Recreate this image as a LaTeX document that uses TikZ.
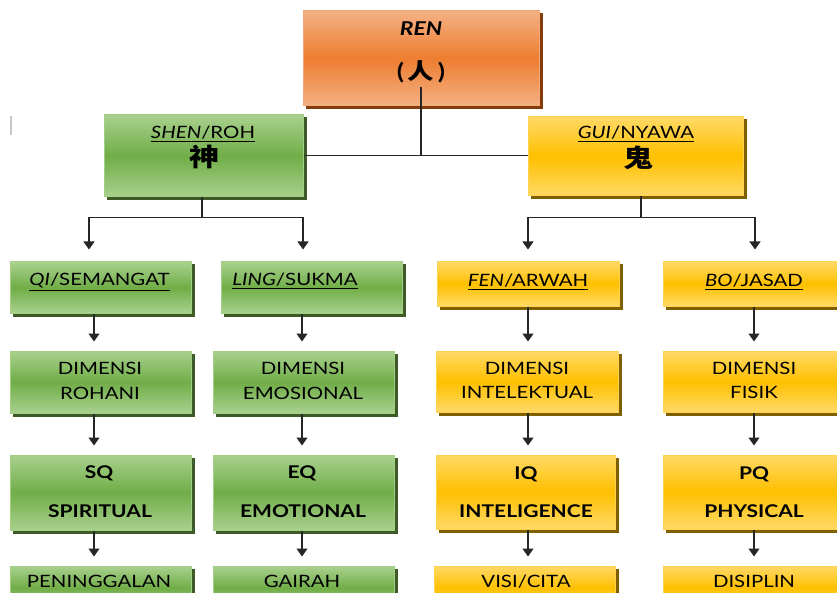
\documentclass[tikz,border=0pt]{standalone}
\usepackage{fontspec}
\setmainfont{Lato}[FakeStretch=1.2]
\newfontfamily\cjk{Noto Sans CJK SC}[FakeStretch=1.2]
\usetikzlibrary{backgrounds,arrows.meta}
\definecolor{glight}{HTML}{A9D18E}
\definecolor{gdark}{HTML}{70AD47}
\definecolor{gborder}{HTML}{A2CF85}
\definecolor{gshadow}{HTML}{3D5A27}
\definecolor{olight}{HTML}{F4B183}
\definecolor{odark}{HTML}{ED7D31}
\definecolor{oborder}{HTML}{F2A877}
\definecolor{oshadow}{HTML}{843C0C}
\definecolor{ylight}{HTML}{FFD966}
\definecolor{ydark}{HTML}{FFC000}
\definecolor{yborder}{HTML}{FFD34D}
\definecolor{yshadow}{HTML}{7F6000}
\tikzset{
  boxbase/.style={rectangle, line width=1pt, inner sep=0pt},
  gbox/.style={boxbase, draw=gborder, top color=glight, bottom color=glight, middle color=gdark},
  obox/.style={boxbase, draw=oborder, top color=olight, bottom color=olight, middle color=odark},
  ybox/.style={boxbase, draw=yborder, top color=ylight, bottom color=ylight, middle color=ydark},
  txt/.style={inner sep=0pt, anchor=base, text=black, font=\fontsize{17}{20}\selectfont},
  btxt/.style={txt, font=\fontsize{17.5}{20}\selectfont\bfseries},
  cjktxt/.style={inner sep=0pt, anchor=center, text=black, font=\fontsize{25}{28}\selectfont\cjk\bfseries},
  conn/.style={draw=black!85, line width=1.2pt},
  arr/.style={conn, -{Triangle[width=11pt,length=8pt]}, shorten >=9pt},
  arrtop/.style={arr, shorten >=12pt},
}
\begin{document}
\begin{tikzpicture}[x=1pt,y=-1pt]
\useasboundingbox (0,0) rectangle (837,593);
\clip (0,0) rectangle (837,593);

% boxes
\node[obox, minimum width=236pt, minimum height=95pt] (ren) at (421,58.5) {};
\node[gbox, minimum width=199pt, minimum height=82pt] (shen) at (203.5,156) {};
\node[ybox, minimum width=215pt, minimum height=79pt] (gui) at (635.5,156.5) {};

\node[gbox, minimum width=181pt, minimum height=51pt] (qi) at (100.5,287.5) {};
\node[gbox, minimum width=181pt, minimum height=51pt] (ling) at (311.5,287.5) {};
\node[ybox, minimum width=182pt, minimum height=44pt] (fen) at (528,284) {};
\node[ybox, minimum width=182pt, minimum height=44pt] (bo) at (754,284) {};

\node[gbox, minimum width=181pt, minimum height=62pt] (dimA) at (100.5,382) {};
\node[gbox, minimum width=181pt, minimum height=62pt] (dimB) at (303.5,382) {};
\node[ybox, minimum width=182pt, minimum height=61pt] (dimC) at (527,381.5) {};
\node[ybox, minimum width=182pt, minimum height=61pt] (dimD) at (754,381.5) {};

\node[gbox, minimum width=181pt, minimum height=75pt] (sq) at (100.5,492.5) {};
\node[gbox, minimum width=181pt, minimum height=75pt] (eq) at (303.5,492.5) {};
\node[ybox, minimum width=179pt, minimum height=74pt] (iq) at (525.5,492) {};
\node[ybox, minimum width=182pt, minimum height=74pt] (pq) at (754,492) {};

\node[gbox, minimum width=181pt, minimum height=44pt] (pen) at (100.5,588) {};
\node[gbox, minimum width=181pt, minimum height=44pt] (gai) at (303.5,588) {};
\node[ybox, minimum width=181pt, minimum height=44pt] (visi) at (524.5,588) {};
\node[ybox, minimum width=182pt, minimum height=44pt] (disi) at (754,588) {};

% shadows behind the boxes
\begin{pgfonlayer}{background}
\foreach \n/\c in {ren/oshadow, shen/gshadow, gui/yshadow, qi/gshadow, ling/gshadow, fen/yshadow, bo/yshadow,
  dimA/gshadow, dimB/gshadow, dimC/yshadow, dimD/yshadow, sq/gshadow, eq/gshadow, iq/yshadow, pq/yshadow,
  pen/gshadow, gai/gshadow, visi/yshadow, disi/yshadow}
  \fill[\c] ([shift={(3pt,-3pt)}]\n.south west) rectangle ([shift={(3pt,-3pt)}]\n.north east);
\end{pgfonlayer}

% texts
\node[btxt, font=\fontsize{19}{22}\selectfont\bfseries] (ren1) at (421,36) {\textit{REN}};
\node[txt, font=\fontsize{22}{26}\selectfont\bfseries] (ren2) at (421,80) {(\,{\cjk\bfseries 人}\,)};
\node[txt] (shen1) at (203,139) {\underline{\textit{SHEN}/ROH}};
\node[cjktxt] (shen2) at (204,157) {神};
\node[txt] (gui1) at (636,139) {\underline{\textit{GUI}/NYAWA}};
\node[cjktxt] (gui2) at (638,158) {鬼};

\node[txt] (qit) at (99.5,286) {\underline{\textit{QI}/SEMANGAT}};
\node[txt] (lingt) at (295,286) {\underline{\textit{LING}/SUKMA}};
\node[txt] (fent) at (528,287) {\underline{\textit{FEN}/ARWAH}};
\node[txt] (bot) at (754,287) {\underline{\textit{BO}/JASAD}};

\node[txt] (dimA1) at (100,374) {DIMENSI};
\node[txt] (dimA2) at (100,399) {ROHANI};
\node[txt] (dimB1) at (303,374) {DIMENSI};
\node[txt] (dimB2) at (303,399) {EMOSIONAL};
\node[txt] (dimC1) at (527,374) {DIMENSI};
\node[txt] (dimC2) at (527,398) {INTELEKTUAL};
\node[txt] (dimD1) at (754,374) {DIMENSI};
\node[txt] (dimD2) at (754,398) {FISIK};

\node[btxt] (sq1) at (99,478) {SQ};
\node[btxt] (sq2) at (100,517) {SPIRITUAL};
\node[btxt] (eq1) at (302,478) {EQ};
\node[btxt] (eq2) at (303,517) {EMOTIONAL};
\node[btxt] (iq1) at (526,479) {IQ};
\node[btxt] (iq2) at (526,517) {INTELIGENCE};
\node[btxt] (pq1) at (754,479) {PQ};
\node[btxt] (pq2) at (754,517) {PHYSICAL};

\node[txt] (pent) at (99,587) {PENINGGALAN};
\node[txt] (gait) at (302,587) {GAIRAH};
\node[txt] (visit) at (526,587) {VISI/CITA};
\node[txt] (disit) at (754,587) {DISIPLIN};

% connectors
\coordinate (hy) at (0,155.5);
\draw[conn] ([yshift=-3pt]ren2.south) -- (ren2.south |- hy);
\draw[conn] (shen.east |- hy) -- (gui.west |- hy);

\coordinate (hA) at (89,217.5);
\coordinate (hB) at (303,217.5);
\coordinate (hC) at (528,217.5);
\coordinate (hD) at (755,217.5);
\draw[conn] (shen.south -| 202,0) -- (hA -| 202,0);
\draw[conn] (gui.south -| 641,0) -- (hC -| 641,0);
\draw[conn] (hA) -- (hB);
\draw[conn] (hC) -- (hD);
\draw[arrtop] (hA) -- (qi.north -| hA);
\draw[arrtop] (hB) -- (ling.north -| hB);
\draw[arrtop] (hC) -- (fen.north -| hC);
\draw[arrtop] (hD) -- (bo.north -| hD);

\coordinate (cA) at (94,0);
\coordinate (cB) at (302,0);
\coordinate (cC) at (528,0);
\coordinate (cD) at (754,0);
\draw[arr] (qi.south -| cA) -- (dimA.north -| cA);
\draw[arr] (ling.south -| cB) -- (dimB.north -| cB);
\draw[arr] (fen.south -| cC) -- (dimC.north -| cC);
\draw[arr] (bo.south -| cD) -- (dimD.north -| cD);
\draw[arr] (dimA.south -| cA) -- (sq.north -| cA);
\draw[arr] (dimB.south -| cB) -- (eq.north -| cB);
\draw[arr] (dimC.south -| cC) -- (iq.north -| cC);
\draw[arr] (dimD.south -| cD) -- (pq.north -| cD);
\draw[arr] (sq.south -| cA) -- (pen.north -| cA);
\draw[arr] (eq.south -| cB) -- (gai.north -| cB);
\draw[arr] (iq.south -| cC) -- (visi.north -| cC);
\draw[arr] (pq.south -| cD) -- (disi.north -| cD);

% stray cursor mark
\draw[gray!45, line width=2pt] (10.5,116) -- (10.5,135);
\end{tikzpicture}
\end{document}
